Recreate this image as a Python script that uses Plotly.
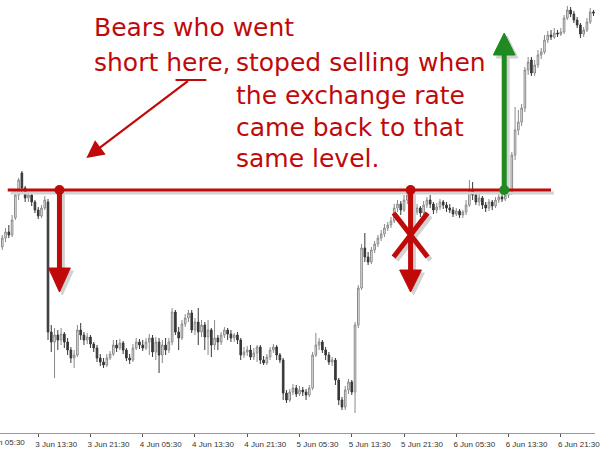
import pandas as pd
import plotly.graph_objects as go

# 30-minute candles, 3 Jun 08:00 onwards (price units are arbitrary chart points)
opens = [253, 262, 268, 265, 282, 305, 327, 312, 302, 305, 298, 290, 284, 292, 298, 168, 158, 165, 160, 166,
         158, 150, 142, 145, 170, 165, 160, 163, 156, 152, 142, 138, 135, 142, 146, 155, 152, 157, 150, 142,
         140, 152, 158, 155, 152, 158, 162, 148, 158, 145, 155, 150, 158, 188, 168, 162, 176, 182, 187, 170,
         178, 168, 175, 163, 170, 155, 162, 158, 165, 170, 166, 162, 165, 160, 145, 148, 150, 143, 147, 153,
         140, 137, 143, 150, 153, 145, 140, 107, 100, 108, 112, 106, 110, 108, 105, 112, 145, 155, 158, 150,
         145, 138, 140, 120, 100, 93, 110, 118, 108, 175, 212, 252, 243, 238, 250, 256, 262, 266, 272, 275,
         279, 292, 296, 290, 300, 305, 292, 288, 292, 287, 295, 300, 296, 290, 293, 298, 295, 292, 290, 286,
         289, 285, 288, 295, 310, 305, 298, 302, 295, 292, 298, 294, 300, 303, 301, 305, 307, 345, 370, 378,
         392, 430, 440, 427, 435, 445, 448, 460, 465, 463, 467, 466, 468, 482, 490, 486, 480, 475, 466, 470,
         478, 488]
highs = [265, 272, 275, 285, 310, 322, 329, 314, 308, 307, 300, 293, 295, 304, 301, 175, 172, 170, 172, 168,
         162, 153, 150, 175, 177, 168, 167, 165, 158, 155, 146, 142, 146, 149, 160, 160, 161, 159, 152, 146,
         156, 162, 161, 160, 162, 166, 165, 163, 162, 160, 162, 162, 192, 190, 173, 180, 186, 190, 190, 182,
         192, 180, 178, 180, 172, 180, 165, 168, 173, 172, 170, 167, 168, 162, 153, 154, 155, 152, 155, 155,
         144, 146, 153, 156, 155, 147, 142, 110, 111, 116, 115, 114, 113, 111, 115, 148, 167, 162, 160, 153,
         148, 143, 142, 122, 103, 114, 121, 120, 178, 215, 256, 267, 248, 253, 259, 265, 270, 276, 278, 283,
         296, 300, 299, 305, 310, 308, 295, 296, 294, 299, 303, 305, 298, 297, 301, 300, 298, 296, 293, 292,
         291, 290, 300, 320, 318, 308, 306, 304, 298, 301, 300, 303, 306, 306, 308, 310, 348, 393, 390, 396,
         433, 443, 443, 440, 450, 452, 465, 469, 470, 472, 470, 472, 485, 494, 493, 489, 483, 477, 473, 482,
         492, 490]
lows = [250, 258, 262, 263, 280, 300, 306, 298, 298, 294, 287, 281, 282, 290, 160, 148, 122, 150, 155, 152,
        145, 137, 132, 143, 160, 155, 156, 152, 148, 138, 134, 132, 133, 140, 144, 148, 150, 146, 139, 136,
        138, 150, 151, 149, 150, 145, 143, 140, 127, 137, 145, 147, 155, 165, 150, 160, 173, 178, 167, 165,
        155, 163, 150, 145, 143, 150, 150, 155, 162, 160, 158, 158, 156, 140, 142, 144, 140, 140, 138, 136,
        135, 135, 140, 147, 140, 137, 100, 97, 98, 105, 103, 104, 104, 100, 103, 110, 143, 150, 147, 140,
        135, 134, 115, 95, 90, 90, 106, 105, 87, 172, 210, 238, 235, 236, 247, 253, 259, 263, 269, 272,
        277, 288, 285, 288, 296, 288, 284, 285, 283, 285, 292, 292, 286, 287, 290, 291, 288, 287, 283, 284,
        282, 282, 285, 293, 300, 295, 294, 291, 288, 289, 290, 292, 297, 298, 299, 302, 305, 340, 365, 374,
        388, 425, 424, 424, 432, 441, 446, 457, 460, 461, 463, 464, 466, 480, 483, 477, 472, 462, 463, 468,
        476, 484]
closes = [262, 268, 265, 280, 305, 320, 312, 302, 305, 298, 290, 284, 292, 300, 168, 158, 165, 160, 166, 158,
          150, 142, 145, 170, 165, 160, 163, 156, 152, 142, 138, 135, 142, 146, 155, 152, 157, 150, 142, 140,
          152, 158, 155, 152, 158, 162, 148, 158, 145, 155, 150, 158, 188, 168, 162, 176, 182, 187, 170, 178,
          168, 175, 163, 170, 155, 162, 158, 165, 170, 166, 162, 165, 160, 145, 148, 150, 143, 147, 153, 140,
          137, 143, 150, 153, 145, 140, 107, 100, 108, 112, 106, 110, 108, 105, 112, 145, 155, 158, 150, 145,
          138, 140, 120, 100, 93, 110, 118, 108, 175, 212, 252, 243, 238, 250, 256, 262, 266, 272, 275, 279,
          292, 296, 290, 300, 305, 292, 288, 292, 287, 295, 300, 296, 290, 293, 298, 295, 292, 290, 286, 289,
          285, 288, 295, 310, 305, 298, 302, 295, 292, 298, 294, 300, 303, 301, 305, 307, 345, 370, 378, 392,
          430, 438, 427, 435, 445, 448, 460, 465, 463, 467, 466, 468, 482, 490, 486, 480, 475, 466, 470, 478,
          488, 487]
times = pd.date_range("2013-06-03 08:00", periods=len(closes), freq="30min")

x_range = ["2013-06-03 07:39", "2013-06-07 02:44"]
tick_start = "2013-06-03 05:30"

# the level and the three touches of it
LEVEL = 310
line_span = [pd.Timestamp("2013-06-03 08:50"), pd.Timestamp("2013-06-06 20:00")]
bear_entry = pd.Timestamp("2013-06-03 16:45")
retest = pd.Timestamp("2013-06-05 22:30")
breakout = pd.Timestamp("2013-06-06 12:50")

RED = "#c00a0a"
GREEN = "#1f8a1f"
SHADOW = "#d2d2d2"
sh_dx = pd.Timedelta(minutes=27)
sh_dy = -3
head_half = pd.Timedelta(minutes=100)

fig = go.Figure()
fig.add_trace(go.Candlestick(
    x=times, open=opens, high=highs, low=lows, close=closes,
    increasing=dict(line=dict(color="#8a8a8a", width=1), fillcolor="#f2f2f2"),
    decreasing=dict(line=dict(color="#383838", width=1), fillcolor="#383838"),
    whiskerwidth=0, hoverinfo="skip", showlegend=False,
))


def line(x, y, color, width):
    fig.add_trace(go.Scatter(x=x, y=y, mode="lines", line=dict(color=color, width=width),
                             hoverinfo="skip", showlegend=False))


def arrow(t, base, tip, color, dx=pd.Timedelta(0), dy=0):
    line([t + dx, t + dx], [LEVEL + dy, base + dy], color, 5)
    fig.add_trace(go.Scatter(
        x=[t - head_half + dx, t + head_half + dx, t + dx, t - head_half + dx],
        y=[base + dy, base + dy, tip + dy, base + dy],
        mode="lines", fill="toself", fillcolor=color, line=dict(color=color, width=1),
        hoverinfo="skip", showlegend=False))


def cross(t, color, dx=pd.Timedelta(0), dy=0):
    half = pd.Timedelta(minutes=156)
    line([t - half + dx, t + half + dx], [287 + dy, 243 + dy], color, 5)
    line([t + half + dx, t - half + dx], [287 + dy, 243 + dy], color, 5)


arrows = [(bear_entry, 232, 208, RED), (retest, 230, 208, RED), (breakout, 445, 467, GREEN)]

# soft drop shadows first
line([line_span[0] + sh_dx, line_span[1] + sh_dx], [LEVEL + sh_dy] * 2, SHADOW, 3)
for t, base, tip, c in arrows:
    arrow(t, base, tip, SHADOW, sh_dx, sh_dy)
cross(retest, SHADOW, sh_dx, sh_dy)

line(line_span, [LEVEL, LEVEL], RED, 3)
for t, base, tip, c in arrows:
    arrow(t, base, tip, c)
cross(retest, RED)
fig.add_trace(go.Scatter(
    x=[t for t, _, _, _ in arrows], y=[LEVEL] * 3, mode="markers",
    marker=dict(size=10, color=[c for _, _, _, c in arrows]),
    hoverinfo="skip", showlegend=False))

txt = dict(family="DejaVu Sans", size=25, color=RED)
notes = [
    ("Bears who went", 93, 473),
    ("short here,", 93, 438),
    ("stoped selling when", 236, 438),
    ("the exchange rate", 236, 405),
    ("came back to that", 236, 373),
    ("same level.", 236, 342),
]
for s, px, py in notes:
    fig.add_annotation(text=s, xref="paper", x=px / 600, xanchor="left",
                       yref="y", y=py, yanchor="middle", showarrow=False, font=txt)

# pointer from the text down to the level
fig.add_annotation(x=pd.Timestamp("2013-06-03 20:52"), y=342, text="", showarrow=True,
                   ax=103, ay=-78, arrowhead=2, arrowsize=1.6, arrowwidth=2.2, arrowcolor=RED)
fig.add_shape(type="line", xref="paper", x0=177 / 600, x1=208 / 600, yref="y", y0=420, y1=420,
              line=dict(color=RED, width=2))

# first date label, cut by the left edge as on the original chart
fig.add_annotation(text="3 Jun 05:30", xref="paper", x=4 / 600, xanchor="center",
                   yref="paper", y=-10 / 433, yanchor="middle", showarrow=False,
                   font=dict(family="Liberation Sans", size=8, color="#333333"))

fig.update_layout(
    width=600, height=452,
    margin=dict(l=0, r=0, t=0, b=19),
    paper_bgcolor="white", plot_bgcolor="white",
    showlegend=False,
    xaxis=dict(
        type="date", range=x_range, rangeslider=dict(visible=False),
        showgrid=False, zeroline=False,
        showline=True, linecolor="#9a9a9a", linewidth=1,
        ticks="outside", ticklen=3, tickcolor="#555555",
        tick0=tick_start, dtick=8 * 3600 * 1000, tickformat="%-d %b %H:%M",
        tickfont=dict(family="Liberation Sans", size=8, color="#333333"),
        ticklabelshift=18, ticklabelstandoff=0, ticklabeloverflow="allow",
    ),
    yaxis=dict(range=[67, 500], visible=False, fixedrange=True),
)

fig.write_html("out.html", config={"displayModeBar": False},
               post_script="document.body.style.margin = '0';")
